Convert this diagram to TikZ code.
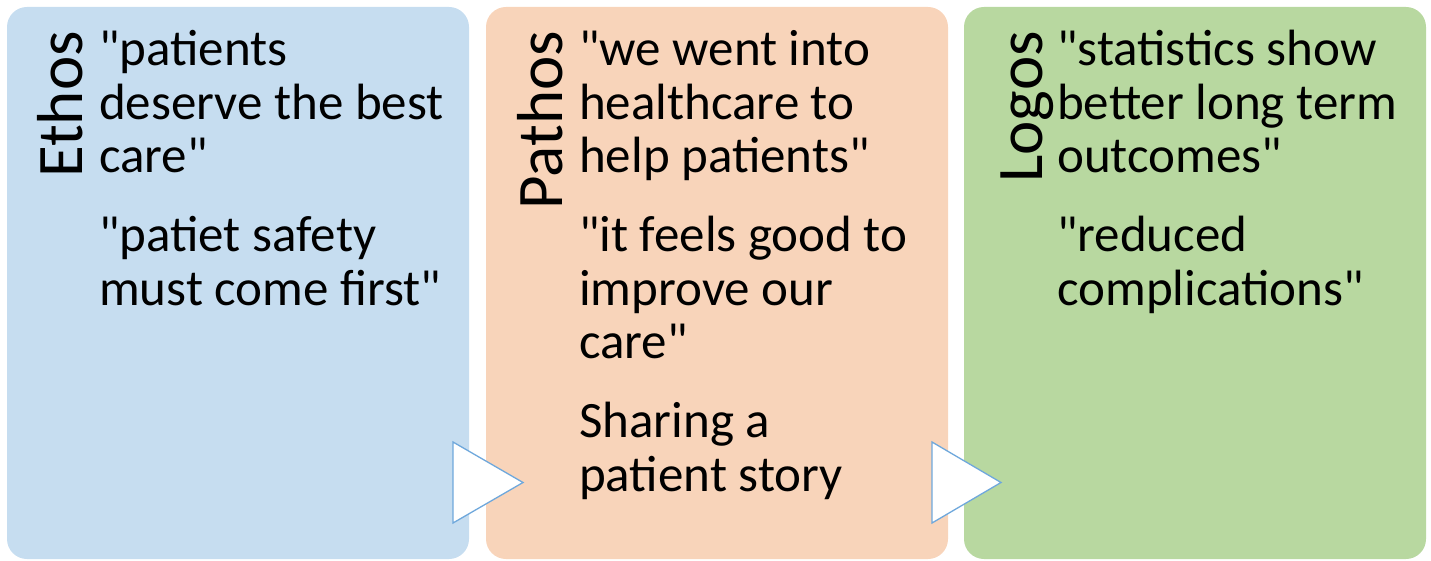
\documentclass[tikz,border=0pt]{standalone}
\usepackage{fontspec}
\setmainfont{Carlito}[Ligatures=TeXOff]
\begin{document}
\begin{tikzpicture}[x=1pt,y=-1pt,
  title/.style={rotate=90, anchor=base east, inner sep=0pt, font=\fontsize{65}{72}\selectfont},
  body/.style={anchor=base west, inner sep=0pt, font=\fontsize{51}{53.3}\selectfont},
  arrowtip/.style={draw=tipblue, fill=white, line width=1.3pt, line join=miter}]
\definecolor{ethosblue}{HTML}{C6DDF0}
\definecolor{pathosorange}{HTML}{F8D4BA}
\definecolor{logosgreen}{HTML}{B8D8A0}
\definecolor{tipblue}{HTML}{6FA8DC}
\useasboundingbox (0,0) rectangle (1431,561);

% three panels
\fill[ethosblue, rounded corners=20pt] (7,7) rectangle (469,559);
\fill[pathosorange, rounded corners=20pt] (486,7) rectangle (948,559);
\fill[logosgreen, rounded corners=20pt] (964,7) rectangle (1426,559);

% panel titles, set vertically
\node[title] (ethos) at (82,31) {Ethos};
\node[title] (pathos) at (562,31) {Pathos};
\node[title] (logos) at (1042,31) {Logos};

% panel contents
\node[body] (ethostext) at (99,66) {\parbox[t]{380pt}{\raggedright
  "patients\\ deserve the best\\ care"\\[26pt]
  "patiet safety\\ must come first"}};
\node[body] (pathostext) at (579,66) {\parbox[t]{380pt}{\raggedright
  "we went into\\ healthcare to\\ help patients"\\[26pt]
  "it feels good to\\ improve our\\ care"\\[26pt]
  Sharing a\\ patient story}};
\node[body] (logostext) at (1057,66) {\parbox[t]{380pt}{\raggedright
  "statistics show\\ better long term\\ outcomes"\\[26pt]
  "reduced\\ complications"}};

% chevrons between the panels
\draw[arrowtip] (453,442) -- (453,523) -- (523,482.5) -- cycle;
\draw[arrowtip] (932,442) -- (932,523) -- (1001,482.5) -- cycle;
\end{tikzpicture}
\end{document}
